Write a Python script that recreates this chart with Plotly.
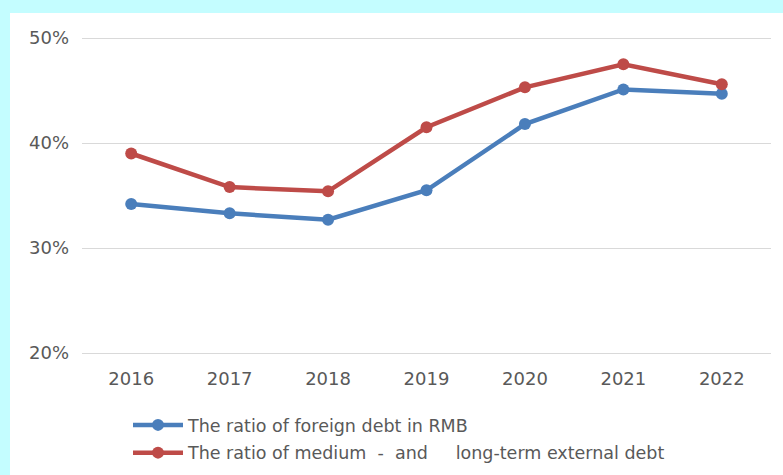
import plotly.graph_objects as go

years = ["2016", "2017", "2018", "2019", "2020", "2021", "2022"]
rmb_ratio = [0.342, 0.333, 0.327, 0.355, 0.418, 0.451, 0.447]
mid_long_ratio = [0.390, 0.358, 0.354, 0.415, 0.453, 0.475, 0.456]

NBSP = "\u00a0"
series_names = [
    "The ratio of foreign debt in RMB",
    "The ratio of medium" + NBSP * 2 + "-" + NBSP * 2 + "and" + NBSP * 5
    + "long-term external debt",
]
y_ticks = [0.2, 0.3, 0.4, 0.5]
y_tick_text = ["20%", "30%", "40%", "50%"]

W, H = 783, 475
ML, MR, MT, MB = 82, 12, 32, 116
PX_PER_UNIT = 1050.0  # pixels per 100 percentage points

fig = go.Figure()
fig.add_trace(go.Scatter(
    x=years, y=rmb_ratio, name=series_names[0], mode="lines+markers",
    line=dict(color="#4a7ebb", width=4.5), marker=dict(size=12, color="#4a7ebb"),
    legendgroup="a",
))
fig.add_trace(go.Scatter(
    x=years, y=mid_long_ratio, name=series_names[1], mode="lines+markers",
    line=dict(color="#be4b48", width=4.5), marker=dict(size=12, color="#be4b48"),
    legendgroup="b",
))

pw = W - ML - MR
ph = H - MT - MB
y_top = 0.5 + (38 - MT) / PX_PER_UNIT
y_bot = y_top - ph / PX_PER_UNIT

# white panel over the cyan page background
fig.add_shape(
    type="rect", xref="paper", yref="paper", layer="below",
    x0=(10 - ML) / pw, x1=(W + 5 - ML) / pw,
    y0=-(MB + 5) / ph, y1=(ph + MT - 13) / ph,
    fillcolor="white", line=dict(width=0),
)

fig.update_layout(
    width=W, height=H,
    margin=dict(l=ML, r=MR, t=MT, b=MB, autoexpand=False),
    paper_bgcolor="#c4fdff",
    plot_bgcolor="white",
    font=dict(family="DejaVu Sans", size=18, color="#595959"),
    showlegend=True,
    legend=dict(
        orientation="v",
        xref="container", x=128 / W, xanchor="left",
        yref="container", y=1 - 407 / H, yanchor="top",
        font=dict(size=17.5, color="#595959"),
        traceorder="grouped", tracegroupgap=2,
        itemwidth=50,
        bgcolor="rgba(0,0,0,0)",
    ),
    xaxis=dict(
        type="category", range=[-0.5, len(years) - 0.5],
        showgrid=False, showline=False, ticks="",
        ticklabelstandoff=7,
    ),
    yaxis=dict(
        range=[y_bot, y_top], tickvals=y_ticks, ticktext=y_tick_text,
        showgrid=True, gridcolor="#d9d9d9", gridwidth=1,
        zeroline=False, showline=False, ticks="", ticklabelstandoff=12,
    ),
)

fig.write_html("out.html")
